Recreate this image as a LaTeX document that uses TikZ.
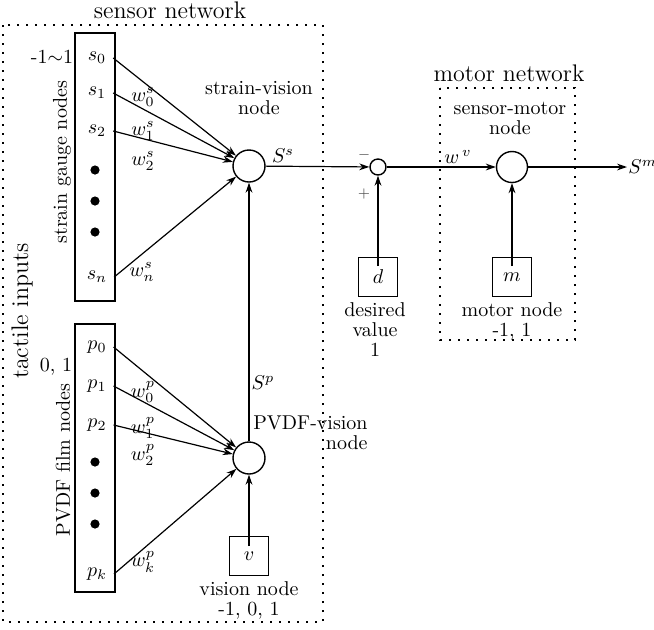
\documentclass[tikz,border=0pt]{standalone}
\usepackage{tikz}
\usetikzlibrary{arrows.meta,positioning}
\tikzset{
  unitbox/.style={
    rectangle, draw, line width=0.6pt,
    minimum width=19.5pt, minimum height=19.5pt, inner sep=0pt
  },
  column/.style={
    rectangle, draw, line width=0.6pt,
    minimum width=20pt, minimum height=#1, inner sep=0pt
  },
  neuron/.style={circle, draw, line width=0.7pt, minimum size=#1, inner sep=0pt},
  neuron/.default=16pt,
  netbox/.style={draw, line width=0.9pt, dash pattern=on 0.9pt off 3.6pt},
  sigarrow/.style={-{Stealth[length=5pt,width=3.4pt]}, line width=0.6pt},
  dotmark/.style={circle, fill, inner sep=0pt, minimum size=4.6pt},
  caption/.style={align=center, inner sep=0.5pt, font=\fontsize{10}{10}\selectfont},
  wlabel/.style={inner sep=0pt, font=\normalsize}
}
\begin{document}
\begin{tikzpicture}[x=0.5pt, y=-0.5pt, node distance=3pt]
\useasboundingbox (0,0) rectangle (654,629);

% dotted network frames
\draw[netbox] (3,25) rectangle (323,622);
\draw[netbox] (440,88) rectangle (575,340);
\node[font=\large] (sensnet) at (170,10) {sensor network};
\node[font=\large] (motnet) at (509,73) {motor network};
\node[font=\large, rotate=90] (tactile) at (22,311) {tactile inputs};

% strain gauge column
\node[column=134pt] (sgbox) at (95,167) {};
\node[rotate=90] (sglabel) at (62,162) {strain gauge nodes};
\node (sgrange) at (52,57) {-1$\sim$1};
\node (s0) at (97,58) {$s_0$};
\node (s1) at (97,93) {$s_1$};
\node (s2) at (97,131) {$s_2$};
\node (sn) at (97,277) {$s_n$};
\foreach \y in {170,201,232}
  \node[dotmark] (sdot\y) at (95,\y) {};

% PVDF film column
\node[column=134pt] (pfbox) at (95,458) {};
\node[rotate=90] (pflabel) at (63,460) {PVDF film nodes};
\node (pfrange) at (56,367) {0, 1};
\node (p0) at (97,347) {$p_0$};
\node (p1) at (97,386) {$p_1$};
\node (p2) at (97,425) {$p_2$};
\node (pk) at (97,574) {$p_k$};
\foreach \y in {462,493,524}
  \node[dotmark] (pdot\y) at (95,\y) {};

% vision nodes
\node[neuron] (sv) at (249,166) {};
\node[caption] (svlabel) at (259,98) {strain-vision\\node};
\node[neuron] (pv) at (249,458) {};
\node[caption, align=right, anchor=east] (pvlabel) at (369,433) {PVDF-vision\\node};
\node[unitbox] (v) at (249,556) {$v$};
\node[caption, below=2pt of v] (vlabel) {vision node\\-1, 0, 1};

% error node and desired value
\node[neuron=8pt] (err) at (378,167) {};
\node[unitbox] (d) at (378,277) {$d$};
\node[caption, below=2pt of d, xshift=-1.5pt] (dlabel) {desired\\value\\1};
\node[font=\scriptsize, text=black!70] (minus) at (364,155) {$-$};
\node[font=\scriptsize, text=black!70] (plus) at (364,194) {$+$};

% sensor-motor node
\node[neuron=15.5pt] (smn) at (512,167) {};
\node[caption] (smlabel) at (510,118) {sensor-motor\\node};
\node[unitbox] (m) at (512,277) {$m$};
\node[caption, below=2pt of m] (mlabel) {motor node\\-1, 1};
\node[anchor=west, inner sep=0.5pt] (smout) at (627,167) {$S^m$};

% weighted inputs
\foreach \i in {s0,s1,s2,sn}
  \draw[sigarrow] (\i.east) -- (sv);
\foreach \i in {p0,p1,p2,pk}
  \draw[sigarrow] (\i.east) -- (pv);
\node[wlabel] (ws0) at (143,97) {$w_0^s$};
\node[wlabel] (ws1) at (143,131) {$w_1^s$};
\node[wlabel] (ws2) at (143,161) {$w_2^s$};
\node[wlabel] (wsn) at (142,272) {$w_n^s$};
\node[wlabel] (wp0) at (143,392) {$w_0^p$};
\node[wlabel] (wp1) at (143,428) {$w_1^p$};
\node[wlabel] (wp2) at (143,455) {$w_2^p$};
\node[wlabel] (wpk) at (143,562) {$w_k^p$};

% signal flow
\draw[sigarrow] (pv) -- (sv);
\draw[sigarrow, shorten <=5pt] (v.center) -- (pv);
\draw[sigarrow] (sv) -- (err);
\draw[sigarrow, shorten <=5.5pt] (d.center) -- (err);
\draw[sigarrow] (err) -- (smn);
\draw[sigarrow, shorten <=5.5pt] (m.center) -- (smn);
\draw[sigarrow] (smn) -- (smout);
\node[wlabel] (Ss) at (283,156) {$S^s$};
\node[wlabel] (Sp) at (263,383) {$S^p$};
\node[wlabel] (wv) at (458,157) {$w^{\,v}$};
\end{tikzpicture}
\end{document}
